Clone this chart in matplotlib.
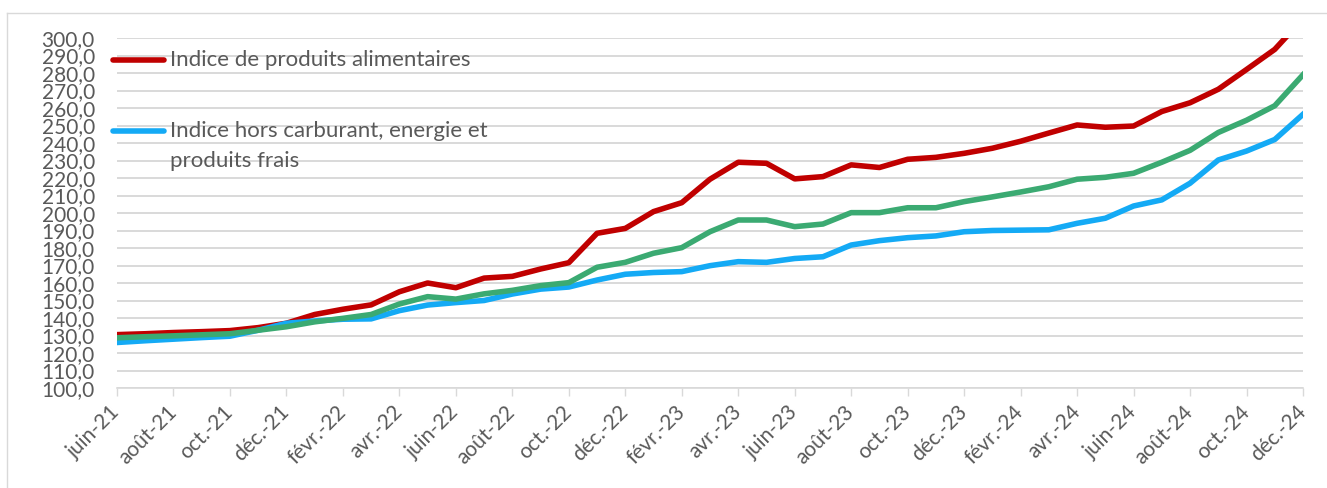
import matplotlib
matplotlib.use('Agg')
import matplotlib.pyplot as plt
from matplotlib.lines import Line2D
from matplotlib.ticker import FuncFormatter, MultipleLocator

months = ['juin-21', 'juil.-21', 'août-21', 'sept.-21', 'oct.-21', 'nov.-21', 'déc.-21',
          'janv.-22', 'févr.-22', 'mars-22', 'avr.-22', 'mai-22', 'juin-22', 'juil.-22',
          'août-22', 'sept.-22', 'oct.-22', 'nov.-22', 'déc.-22',
          'janv.-23', 'févr.-23', 'mars-23', 'avr.-23', 'mai-23', 'juin-23', 'juil.-23',
          'août-23', 'sept.-23', 'oct.-23', 'nov.-23', 'déc.-23',
          'janv.-24', 'févr.-24', 'mars-24', 'avr.-24', 'mai-24', 'juin-24', 'juil.-24',
          'août-24', 'sept.-24', 'oct.-24', 'nov.-24', 'déc.-24']

alimentaire = [130.5, 131.0, 131.7, 132.2, 132.8, 134.5, 137.0, 142.0, 145.0, 147.5,
               155.0, 160.0, 157.3, 162.8, 163.8, 168.0, 171.6, 188.4, 191.2, 200.8,
               205.9, 219.3, 229.0, 228.4, 219.5, 220.8, 227.5, 226.0, 230.7, 231.8,
               234.1, 237.0, 241.0, 245.7, 250.3, 249.0, 249.7, 258.0, 263.0, 270.7,
               282.0, 293.5, 311.0]

general = [128.7, 129.3, 129.8, 130.4, 131.0, 133.0, 135.0, 137.8, 139.8, 142.0,
           148.0, 152.2, 150.8, 153.8, 155.8, 158.5, 160.2, 169.0, 171.8, 177.0,
           180.2, 189.3, 196.0, 196.0, 192.2, 193.7, 200.2, 200.2, 203.0, 203.0,
           206.5, 209.2, 212.0, 215.0, 219.3, 220.4, 222.7, 229.0, 235.8, 246.0,
           253.0, 261.3, 279.0]

hors_carburant = [126.0, 127.0, 127.9, 128.8, 129.6, 133.0, 137.0, 138.3, 139.3, 139.5,
                  144.2, 147.4, 148.8, 150.0, 153.7, 156.5, 157.7, 161.7, 165.0, 166.0,
                  166.5, 169.9, 172.2, 171.8, 174.0, 175.0, 181.7, 184.2, 185.9, 186.9,
                  189.3, 190.0, 190.2, 190.4, 194.1, 197.0, 204.0, 207.5, 217.0, 230.3,
                  235.4, 242.0, 256.4]

label_alim = 'Indice de produits alimentaires'
label_hors_1 = 'Indice hors carburant, energie et'
label_hors_2 = 'produits frais'

RED = '#C00000'
GREEN = '#3BAA72'
BLUE = '#14AAF5'
GRID = '#D9D9D9'
TXT = '#595959'
FONT = 'Lato'

W, H = 1327, 488
fig = plt.figure(figsize=(W / 100, H / 100), dpi=100)
ax = fig.add_axes([117 / W, 100 / H, (1303 - 117) / W, (388 - 38) / H])

x = list(range(len(months)))
ax.plot(x, alimentaire, color=RED, lw=4, solid_joinstyle='round', zorder=3)
ax.plot(x, hors_carburant, color=BLUE, lw=4, solid_joinstyle='round', zorder=4)
ax.plot(x, general, color=GREEN, lw=4, solid_joinstyle='round', zorder=5)

ax.set_xlim(0, len(months) - 1)
ax.set_ylim(100, 300)
ax.yaxis.set_major_locator(MultipleLocator(10))
ax.yaxis.set_major_formatter(FuncFormatter(lambda v, p: f'{v:.1f}'.replace('.', ',')))
ax.grid(axis='y', color=GRID, lw=1.4, zorder=0)
ax.set_axisbelow(True)

ax.set_xticks(x[::2])
ax.set_xticklabels(months[::2], rotation=45, ha='right', va='center',
                   rotation_mode='anchor', fontsize=15, color=TXT, family=FONT)
for lab in ax.get_yticklabels():
    lab.set_family(FONT)
ax.tick_params(axis='y', length=0, labelsize=15, labelcolor=TXT, pad=16)
ax.tick_params(axis='x', length=6, color=GRID, width=1, pad=9)

for s in ['top', 'right', 'left']:
    ax.spines[s].set_visible(False)
ax.spines['bottom'].set_color(GRID)
ax.spines['bottom'].set_linewidth(1.2)

# legend (manual, Excel style)
def fx(px):
    return px / W

def fy(py):
    return 1 - py / H

fig.add_artist(Line2D([fx(113), fx(164)], [fy(60), fy(60)], color=RED, lw=4,
                      solid_capstyle='round', transform=fig.transFigure))
fig.text(fx(170), fy(60), label_alim, fontsize=16, color=TXT, family=FONT,
         va='center', ha='left')
fig.add_artist(Line2D([fx(113), fx(164)], [fy(131), fy(131)], color=BLUE, lw=4,
                      solid_capstyle='round', transform=fig.transFigure))
fig.text(fx(170), fy(131), label_hors_1, fontsize=16, color=TXT, family=FONT,
         va='center', ha='left')
fig.text(fx(170), fy(161), label_hors_2, fontsize=16, color=TXT, family=FONT,
         va='center', ha='left')

# chart area border
fig.add_artist(Line2D([fx(7), fx(7)], [fy(13), 0], color=GRID, lw=1,
                      transform=fig.transFigure))
fig.add_artist(Line2D([fx(7), 1], [fy(13), fy(13)], color=GRID, lw=1,
                      transform=fig.transFigure))

fig.savefig('out.png', dpi=100)
